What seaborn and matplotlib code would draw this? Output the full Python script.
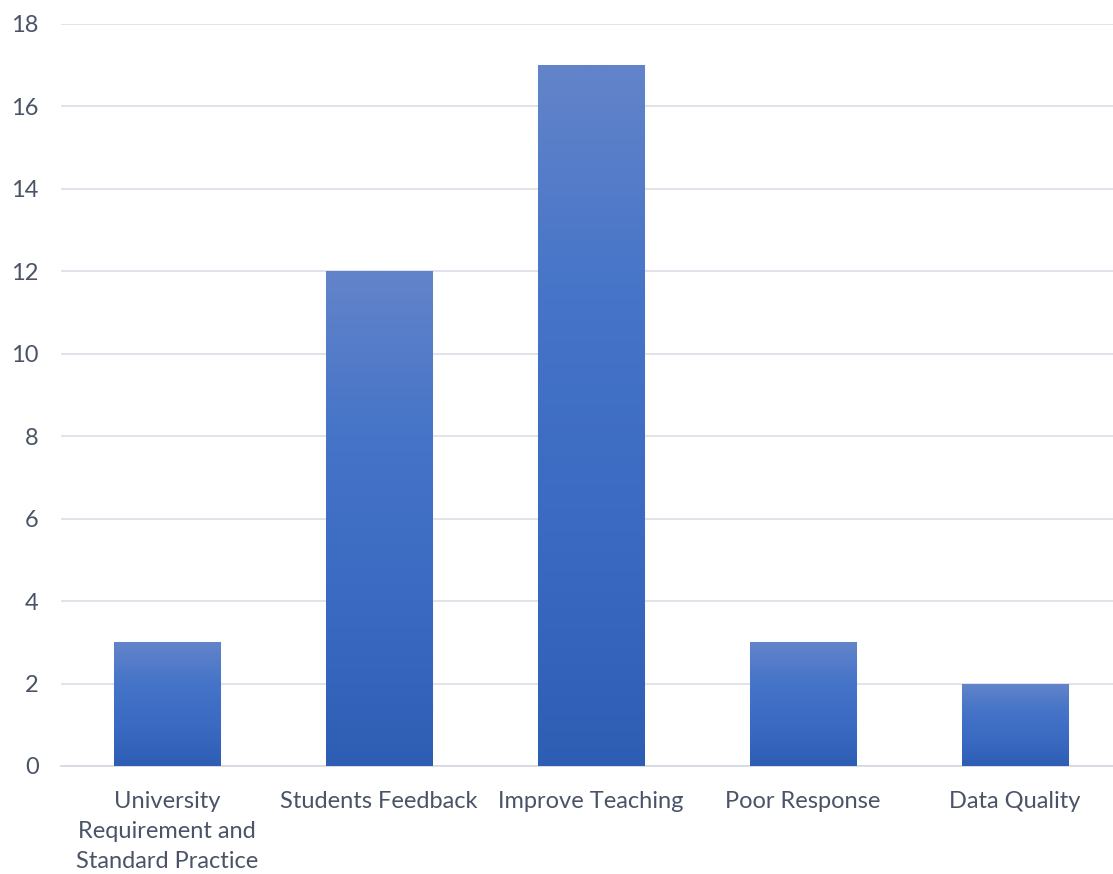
import numpy as np
import matplotlib
matplotlib.use("Agg")
import matplotlib.pyplot as plt
from matplotlib.colors import LinearSegmentedColormap
import seaborn as sns
import pandas as pd

categories = ["University\nRequirement and\nStandard Practice", "Students Feedback",
              "Improve Teaching", "Poor Response", "Data Quality"]
counts = [3, 12, 17, 3, 2]
y_ticks = [0, 2, 4, 6, 8, 10, 12, 14, 16, 18]

sns.set_theme(style="white")
plt.rcParams["font.family"] = ["Lato", "DejaVu Sans"]

df = pd.DataFrame({"category": categories, "count": counts})

fig = plt.figure(figsize=(11.13, 8.74), dpi=100)
ax = fig.add_axes([0.0548, 0.1236, 0.9524, 0.849])

sns.barplot(data=df, x="category", y="count", color="#4472C4", width=0.5,
            ax=ax, saturation=1, edgecolor="#BFD0EE", linewidth=0.8, zorder=3)

# vertical gradient fill inside each bar, lighter at top
grad_cmap = LinearSegmentedColormap.from_list(
    "bar_grad", ["#2E5EB4", "#3A6AC2", "#4574C8", "#6384CA"])
grad = np.linspace(0, 1, 256).reshape(-1, 1)
for patch in ax.patches:
    x0, y0 = patch.get_x(), patch.get_y()
    w, h = patch.get_width(), patch.get_height()
    im = ax.imshow(grad, cmap=grad_cmap, origin="lower", aspect="auto",
                   extent=[x0, x0 + w, y0, y0 + h], zorder=3.5,
                   interpolation="bilinear")
    im.set_clip_path(patch)

ax.set_xlim(-0.5, 4.5)
ax.set_ylim(0, 18)
ax.set_yticks(y_ticks)
ax.set_yticklabels([str(t) for t in y_ticks])
ax.set_xlabel("")
ax.set_ylabel("")

ax.yaxis.grid(True, color="#DDE1E8", linewidth=1.3, zorder=0)
ax.set_axisbelow(True)
for side in ["top", "right", "left"]:
    ax.spines[side].set_visible(False)
ax.spines["bottom"].set_color("#D6DAE1")
ax.spines["bottom"].set_linewidth(1.3)

text_color = "#4A5466"
ax.tick_params(axis="both", length=0, labelsize=17, colors=text_color)
ax.tick_params(axis="y", pad=16)
ax.tick_params(axis="x", pad=18)
for lbl in ax.get_xticklabels():
    lbl.set_linespacing(1.52)
    lbl.set_verticalalignment("top")

fig.savefig("out.png", dpi=100, facecolor="white")
